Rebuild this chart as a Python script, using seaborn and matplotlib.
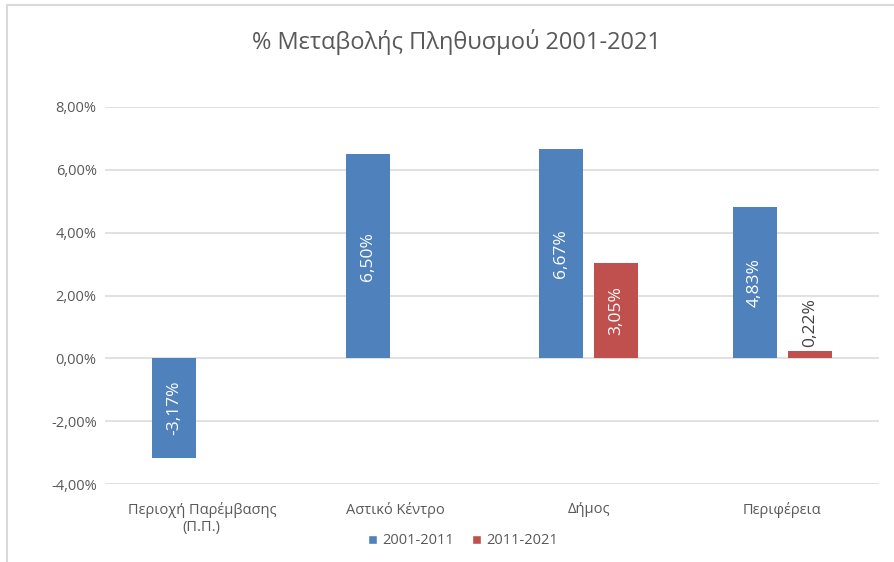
import pandas as pd
import matplotlib.pyplot as plt
import seaborn as sns
from matplotlib.patches import Patch
from matplotlib.lines import Line2D
from matplotlib.ticker import FuncFormatter

# data (% change)
categories = ['Περιοχή Παρέμβασης\n(Π.Π.)', 'Αστικό Κέντρο', 'Δήμος', 'Περιφέρεια']
periods = ['2001-2011', '2011-2021']
change_2001_2011 = [-3.17, 6.50, 6.67, 4.83]
change_2011_2021 = [None, None, 3.05, 0.22]
yticks = [-4, -2, 0, 2, 4, 6, 8]

rows = []
for cat, v1, v2 in zip(categories, change_2001_2011, change_2011_2021):
    rows.append({'Περιοχή': cat, 'Περίοδος': periods[0], 'Μεταβολή': v1})
    if v2 is not None:
        rows.append({'Περιοχή': cat, 'Περίοδος': periods[1], 'Μεταβολή': v2})
df = pd.DataFrame(rows)

colors = {'2001-2011': '#4F81BD', '2011-2021': '#C0504D'}
text_col = '#595959'

sns.set_theme(style='white')
plt.rcParams['font.family'] = ['Open Sans', 'DejaVu Sans']

fig = plt.figure(figsize=(8.94, 5.62), dpi=100)
ax = fig.add_axes([105 / 894, 1 - 484 / 562, 774 / 894, 377 / 562])

sns.barplot(data=df, x='Περιοχή', y='Μεταβολή', hue='Περίοδος', order=categories,
            hue_order=periods, palette=colors, width=0.57, gap=0.2, saturation=1,
            linewidth=0, errorbar=None, legend=False, ax=ax)

ax.set_xlim(-0.5, 3.5)
ax.set_ylim(-4, 8)
ax.set_yticks(yticks)
ax.yaxis.set_major_formatter(FuncFormatter(lambda v, p: f'{v:.2f}%'.replace('.', ',')))
ax.grid(axis='y', color='#D9D9D9', linewidth=1.1)
ax.set_axisbelow(True)
for s in ax.spines.values():
    s.set_visible(False)
ax.tick_params(axis='both', length=0, labelsize=10.5, labelcolor=text_col)
ax.tick_params(axis='y', pad=6)
ax.tick_params(axis='x', pad=13)
ax.set_xlabel('')
ax.set_ylabel('')

# data labels, rotated like the original
for cont in ax.containers:
    for bar in cont:
        h = bar.get_height()
        if pd.isna(h):
            continue
        lbl = f'{h:.2f}%'.replace('.', ',')
        xc = bar.get_x() + bar.get_width() / 2
        if abs(h) > 1:
            ax.text(xc, h / 2, lbl, rotation=90, ha='center', va='center',
                    color='white', fontsize=12.5)
        else:
            ax.annotate(lbl, (xc, h), xytext=(0, 3), textcoords='offset points',
                        rotation=90, ha='center', va='bottom', color='#404040', fontsize=12.5)

fig.text(457 / 894, 1 - 42 / 562, '% Μεταβολής Πληθυσμού 2001-2021',
         ha='center', va='center', fontsize=17, color=text_col)

handles = [Patch(facecolor=colors[p], label=p) for p in periods]
fig.legend(handles=handles, loc='center', bbox_to_anchor=(463 / 894, 1 - 541 / 562),
           ncol=2, frameon=False, fontsize=10.5, labelcolor=text_col,
           handlelength=0.6, handleheight=0.6, handletextpad=0.4, columnspacing=1.2)

# light chart border on the visible edges
fig.add_artist(Line2D([7 / 894, 7 / 894], [0, 1 - 5 / 562], color='#D9D9D9', lw=1.5))
fig.add_artist(Line2D([7 / 894, 1], [1 - 5 / 562, 1 - 5 / 562], color='#D9D9D9', lw=1.5))

fig.savefig('out.png', dpi=100)
